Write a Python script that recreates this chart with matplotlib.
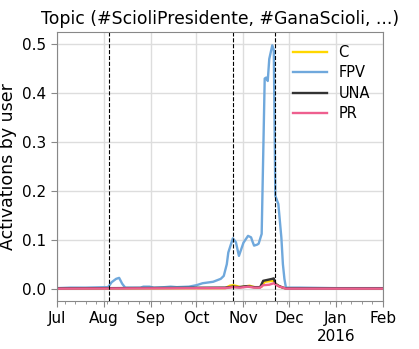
from datetime import datetime
import matplotlib
matplotlib.use('Agg')
import matplotlib.pyplot as plt
import matplotlib.dates as mdates
from matplotlib import ticker

# values (date, activations by user)
fpv_dates = ['2015-07-01', '2015-07-10', '2015-07-20', '2015-08-03', '2015-08-04', '2015-08-06',
             '2015-08-09', '2015-08-11', '2015-08-13', '2015-08-15', '2015-08-25', '2015-08-27',
             '2015-08-31', '2015-09-03', '2015-09-10', '2015-09-14', '2015-09-18', '2015-09-26',
             '2015-10-01', '2015-10-05', '2015-10-12', '2015-10-17', '2015-10-19', '2015-10-21',
             '2015-10-22', '2015-10-25', '2015-10-27', '2015-10-29', '2015-11-01', '2015-11-04',
             '2015-11-06', '2015-11-07', '2015-11-08', '2015-11-10', '2015-11-11', '2015-11-13',
             '2015-11-15', '2015-11-16', '2015-11-17', '2015-11-18', '2015-11-20', '2015-11-21',
             '2015-11-22', '2015-11-24', '2015-11-26', '2015-11-27', '2015-11-28', '2015-11-29',
             '2015-12-08', '2016-01-01', '2016-02-01']
fpv_vals = [0.001, 0.002, 0.002, 0.003, 0.004, 0.013,
            0.020, 0.022, 0.010, 0.002, 0.002, 0.004,
            0.004, 0.002, 0.003, 0.004, 0.003, 0.004,
            0.007, 0.011, 0.014, 0.020, 0.026, 0.050,
            0.074, 0.103, 0.095, 0.067, 0.094, 0.108,
            0.105, 0.096, 0.088, 0.090, 0.092, 0.112,
            0.430, 0.432, 0.425, 0.470, 0.498, 0.488,
            0.190, 0.173, 0.104, 0.050, 0.020, 0.002,
            0.002, 0.001, 0.001]

c_dates = ['2015-07-01', '2015-10-20', '2015-10-23', '2015-10-25', '2015-10-28', '2015-10-30',
           '2015-11-03', '2015-11-05', '2015-11-07', '2015-11-10', '2015-11-13', '2015-11-15',
           '2015-11-21', '2015-11-22', '2015-11-25', '2015-11-28', '2016-02-01']
c_vals = [0.0005, 0.001, 0.006, 0.007, 0.005, 0.003,
          0.005, 0.006, 0.004, 0.002, 0.004, 0.014,
          0.016, 0.010, 0.004, 0.001, 0.0005]

una_dates = ['2015-07-01', '2015-10-20', '2015-10-25', '2015-10-29', '2015-11-03', '2015-11-08',
             '2015-11-12', '2015-11-14', '2015-11-17', '2015-11-20', '2015-11-21', '2015-11-22',
             '2015-11-24', '2015-11-27', '2015-11-29', '2016-02-01']
una_vals = [0.0005, 0.002, 0.004, 0.003, 0.005, 0.003,
            0.003, 0.016, 0.018, 0.020, 0.021, 0.010,
            0.006, 0.002, 0.0005, 0.0005]

pr_dates = ['2015-07-01', '2015-10-20', '2015-10-25', '2015-10-30', '2015-11-04', '2015-11-08',
            '2015-11-12', '2015-11-14', '2015-11-18', '2015-11-21', '2015-11-22', '2015-11-24',
            '2015-11-27', '2015-11-29', '2016-02-01']
pr_vals = [0.0, 0.001, 0.003, 0.002, 0.004, 0.002,
           0.002, 0.007, 0.008, 0.011, 0.009, 0.005,
           0.002, 0.0, 0.0]

event_dates = ['2015-08-04', '2015-10-25', '2015-11-22']
month_labels = ['Jul', 'Aug', 'Sep', 'Oct', 'Nov', 'Dec', 'Jan\n2016', 'Feb']


def to_dt(ds):
    return [datetime.strptime(d, '%Y-%m-%d') for d in ds]


fig = plt.figure(figsize=(4.19, 3.49), dpi=100)
ax = fig.add_axes([0.136, 0.138, 0.778, 0.770])

ax.plot(to_dt(c_dates), c_vals, color='#FFD700', lw=1.7, label='C')
ax.plot(to_dt(fpv_dates), fpv_vals, color='#6FA8DC', lw=1.7, label='FPV')
ax.plot(to_dt(una_dates), una_vals, color='#333333', lw=1.7, label='UNA')
ax.plot(to_dt(pr_dates), pr_vals, color='#EE5F8F', lw=1.7, label='PR')

for d in to_dt(event_dates):
    ax.axvline(d, color='black', ls='--', lw=0.8)

ax.set_xlim(datetime(2015, 7, 1), datetime(2016, 2, 1))
ax.set_ylim(-0.025, 0.525)
ax.xaxis.set_major_locator(mdates.MonthLocator())
ax.xaxis.set_minor_locator(mdates.WeekdayLocator(byweekday=mdates.MO))
ax.xaxis.set_major_formatter(ticker.FixedFormatter(month_labels))
ax.xaxis.set_minor_formatter(ticker.NullFormatter())
ax.yaxis.set_major_locator(ticker.MultipleLocator(0.1))

ax.grid(which='major', color='#DDDDDD', lw=1)
for s in ax.spines.values():
    s.set_color('#888888')
ax.tick_params(which='both', colors='#888888', labelcolor='black', labelsize=11)
ax.tick_params(which='major', length=4)
ax.tick_params(which='minor', length=2)

ax.set_title('Topic (#ScioliPresidente, #GanaScioli, ...)', fontsize=12.4)
ax.set_ylabel('Activations by user', fontsize=12.5)
ax.legend(loc='upper right', frameon=False, fontsize=10.5, handlelength=2.3,
          labelspacing=0.36)

fig.savefig('out.png', dpi=100)
